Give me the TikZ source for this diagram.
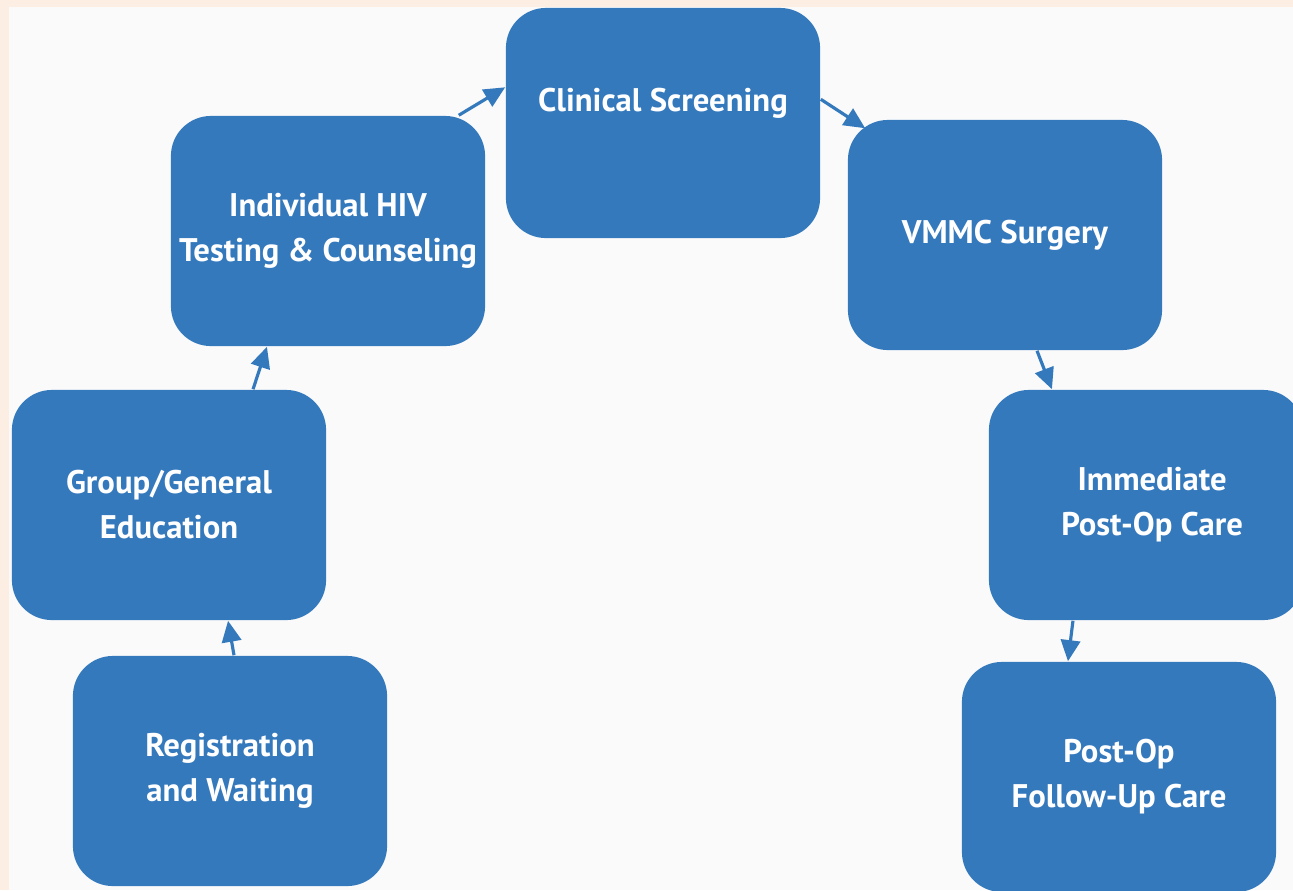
\documentclass[tikz,border=0pt]{standalone}
\usepackage{fontspec}
\setmainfont{PT Sans}
\usetikzlibrary{arrows.meta}
\definecolor{stepblue}{RGB}{53,121,189}
\definecolor{pagepeach}{RGB}{253,238,228}
\definecolor{pagegray}{RGB}{250,250,250}
\tikzset{
  stage/.style={draw=none,fill=stepblue,rounded corners=0.4cm,minimum width=3.14cm,minimum height=2.3cm,
    inner sep=0pt,text=white,align=center,font=\fontsize{9.3}{12.8}\selectfont\bfseries},
  stagetext/.style={text=white,align=center,font=\fontsize{9.3}{12.8}\selectfont\bfseries},
  flow/.style={-{Triangle[length=6pt,width=5.5pt]},draw=stepblue,line width=0.9pt}
}
\begin{document}
\begin{tikzpicture}[x=0.01cm,y=-0.01cm]
		\useasboundingbox (0,0) rectangle (1293,890);
		\fill[pagepeach] (0,0) rectangle (1293,890);
		\fill[pagegray] (9,7) rectangle (1293,890);
		% stages
		\node[stage] (reg) at (230,771) {Registration\\and Waiting};
		\node[stage] (grp) at (169,505) {Group/General\\Education};
		\node[stage] (hiv) at (328,231) {Individual HIV\\Testing \& Counseling};
		\node[stage] (clin) at (663,123) {};
		\node[stagetext] at (663,103) {Clinical Screening};
		\node[stage] (vmmc) at (1005,235) {VMMC Surgery};
		\node[stage] (imm) at (1146,505) {\hspace*{3.5pt}Immediate\\\hspace*{3.5pt}Post-Op Care};
		\node[stage] (fup) at (1119,777) {Post-Op\\Follow-Up Care};
		% arrows
		\draw[flow] ([xshift=0.04cm]reg.north) -- ([xshift=0.59cm]grp.south);
		\draw[flow] ([xshift=0.84cm]grp.north) -- ([xshift=-0.61cm]hiv.south);
		\draw[flow] ([xshift=-0.27cm]hiv.north east) -- ([yshift=-0.8cm]clin.north west);
		\draw[flow] ([yshift=-0.92cm]clin.north east) -- ([xshift=0.18cm,yshift=-0.09cm]vmmc.north west);
		\draw[flow] ([xshift=0.32cm]vmmc.south) -- ([xshift=-0.94cm]imm.north);
		\draw[flow] ([xshift=-0.73cm]imm.south) -- ([xshift=-0.51cm]fup.north);
\end{tikzpicture}
\end{document}
